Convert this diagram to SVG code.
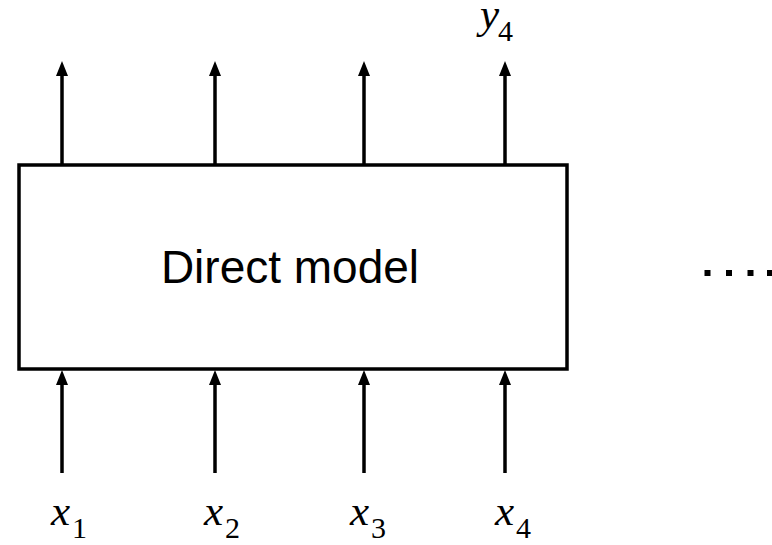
<svg xmlns="http://www.w3.org/2000/svg" width="772" height="545" viewBox="0 0 772 545">
<defs>
<marker id="ah" markerWidth="12" markerHeight="14" refX="6" refY="15" orient="auto-start-reverse" markerUnits="userSpaceOnUse" viewBox="0 0 12 15">
<path d="M0,15 L6,0 L12,15 Z" fill="#000"/>
</marker>
<style>
.conn{stroke:#000;stroke-width:3.5;fill:none}
.math{font-family:"Liberation Serif","DejaVu Serif",serif;font-style:italic;font-size:43px;fill:#000}
.sub{font-family:"Liberation Serif","DejaVu Serif",serif;font-style:normal;font-size:30px;fill:#000}
.lbl{font-family:"Liberation Sans",Arial,sans-serif;font-size:46px;fill:#000}
</style>
</defs>
<rect width="772" height="545" fill="#fff"/>
<g id="model">
<rect x="19" y="165" width="548" height="204" fill="#fff" stroke="#000" stroke-width="3.5"/>
<text class="lbl" x="290" y="283" text-anchor="middle">Direct model</text>
</g>
<g id="connectors">
<path class="conn" d="M62,165 V76" />
<path class="conn" d="M215,165 V76" />
<path class="conn" d="M364,165 V76" />
<path class="conn" d="M505,165 V76" />
<path class="conn" d="M62,473 V384" />
<path class="conn" d="M215,473 V384" />
<path class="conn" d="M364,473 V384" />
<path class="conn" d="M505,473 V384" />
<g fill="#000">
<path d="M56,76 L62,61 L68,76 Z"/>
<path d="M209,76 L215,61 L221,76 Z"/>
<path d="M358,76 L364,61 L370,76 Z"/>
<path d="M499,76 L505,61 L511,76 Z"/>
<path d="M56,385 L62,370 L68,385 Z"/>
<path d="M209,385 L215,370 L221,385 Z"/>
<path d="M358,385 L364,370 L370,385 Z"/>
<path d="M499,385 L505,370 L511,385 Z"/>
</g>
</g>
<g id="y4"><text class="math" x="480" y="28">y</text><text class="sub" x="498" y="41">4</text></g>
<g id="x1"><text class="math" x="51" y="525">x</text><text class="sub" x="72" y="538">1</text></g>
<g id="x2"><text class="math" x="204" y="525">x</text><text class="sub" x="225" y="538">2</text></g>
<g id="x3"><text class="math" x="350" y="525">x</text><text class="sub" x="371" y="538">3</text></g>
<g id="x4"><text class="math" x="495" y="525">x</text><text class="sub" x="516" y="538">4</text></g>
<g id="ellipsis" fill="#000">
<rect x="704.5" y="270" width="6" height="6"/>
<rect x="726" y="270" width="6" height="6"/>
<rect x="747.5" y="270" width="6" height="6"/>
<rect x="767" y="270" width="6" height="6"/>
</g>
</svg>
